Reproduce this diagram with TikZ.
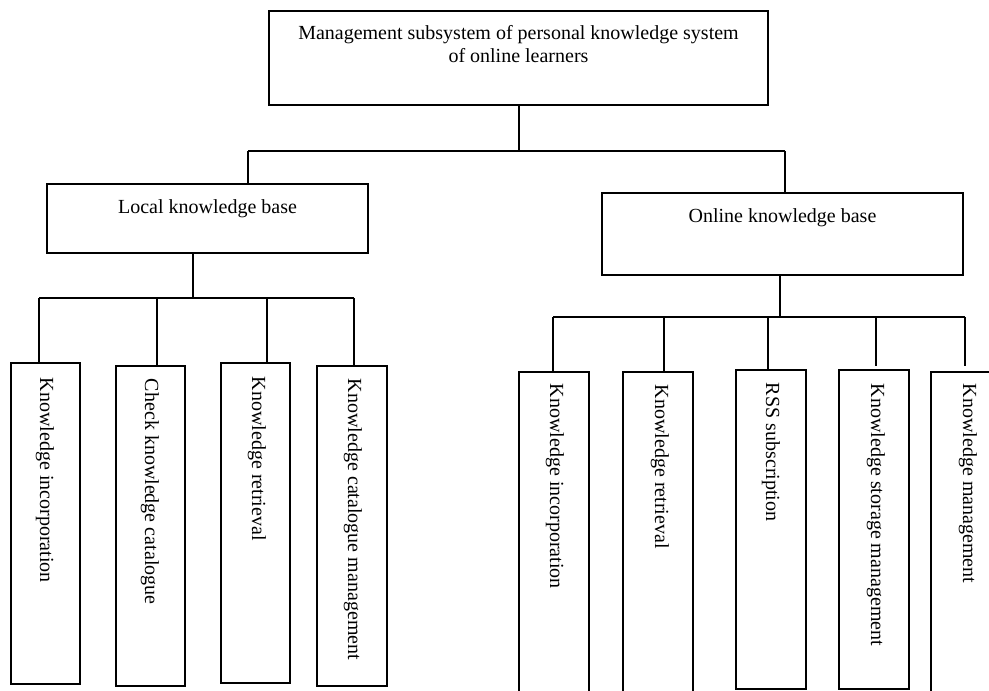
\documentclass[tikz,border=0pt]{standalone}
\usepackage{fontspec}
\setmainfont{Liberation Serif}
\usetikzlibrary{fit}
\begin{document}
\begin{tikzpicture}[x=0.75pt,y=-0.75pt,
  line width=1.5pt,
  box/.style={draw=black, line width=1.5pt, inner sep=0pt, rectangle},
  lbl/.style={inner sep=0pt, font=\fontsize{15}{17.25}\selectfont},
  vlbl/.style={inner sep=0pt, font=\fontsize{15}{17.25}\selectfont, rotate=-90, anchor=west},
  wire/.style={draw=black, line width=1.5pt}]
\useasboundingbox (0,0) rectangle (989,691);
\clip (0,0) rectangle (989,691);
% main boxes
\node[box, fit={(269,11)(768,105)}] (top) {};
\node[lbl, align=center, anchor=base] (toptxt) at (518.5,62.5) {Management subsystem of personal knowledge system\\of online learners};
\node[box, fit={(47,184)(368,253)}] (local) {};
\node[lbl, anchor=base] (localtxt) at (207.5,214) {Local knowledge base};
\node[box, fit={(602,193)(963,275)}] (online) {};
\node[lbl, anchor=base] (onlinetxt) at (782.5,223) {Online knowledge base};
% local children
\node[box, fit={(11,363)(80,684)}] (l1) {};
\node[box, fit={(116,366)(185,686)}] (l2) {};
\node[box, fit={(221,363)(290,683)}] (l3) {};
\node[box, fit={(317,366)(387,686)}] (l4) {};
\node[vlbl] (l1t) at (45,377) {Knowledge incorporation};
\node[vlbl] (l2t) at (150,378) {Check knowledge catalogue};
\node[vlbl] (l3t) at (257,376) {Knowledge retrieval};
\node[vlbl] (l4t) at (353,378) {Knowledge catalogue management};
% online children
\node[box, fit={(519,372)(589,705)}] (o1) {};
\node[box, fit={(623,372)(693,705)}] (o2) {};
\node[box, fit={(736,370)(806,689)}] (o3) {};
\node[box, fit={(839,370)(909,689)}] (o4) {};
\node[box, fit={(931,372)(1005,705)}] (o5) {};
\node[vlbl] (o1t) at (555,383) {Knowledge incorporation};
\node[vlbl] (o2t) at (660,384) {Knowledge retrieval};
\node[vlbl] (o3t) at (771,382) {RSS subscription};
\node[vlbl] (o4t) at (876,383) {Knowledge storage management};
\node[vlbl] (o5t) at (968,383) {Knowledge management};
% connector coordinates
\coordinate (busL) at (248,151);
\coordinate (busR) at (785,151);
\coordinate (lbus) at (193,298);
\coordinate (lb1) at (39,298);
\coordinate (lb2) at (157,298);
\coordinate (lb3) at (267,298);
\coordinate (lb4) at (354,298);
\coordinate (obus) at (780,317);
\coordinate (ob1) at (553,317);
\coordinate (ob2) at (664,317);
\coordinate (ob3) at (768,317);
\coordinate (ob4) at (876,317);
\coordinate (ob5) at (965,317);
\coordinate (ob4e) at (876,366);
\coordinate (ob5e) at (965,366);
% top level
\draw[wire] (top.south) -- (top.south |- busL);
\draw[wire] (busL) -- (busR);
\draw[wire] (busL) -- (busL |- local.north);
\draw[wire] (busR) -- (busR |- online.north);
% local
\draw[wire] (lbus |- local.south) -- (lbus);
\draw[wire] (lb1) -- (lb4);
\draw[wire] (lb1) -- (lb1 |- l1.north);
\draw[wire] (lb2) -- (lb2 |- l2.north);
\draw[wire] (lb3) -- (lb3 |- l3.north);
\draw[wire] (lb4) -- (lb4 |- l4.north);
% online
\draw[wire] (obus |- online.south) -- (obus);
\draw[wire] (ob1) -- (ob5);
\draw[wire] (ob1) -- (ob1 |- o1.north);
\draw[wire] (ob2) -- (ob2 |- o2.north);
\draw[wire] (ob3) -- (ob3 |- o3.north);
\draw[wire] (ob4) -- (ob4e);
\draw[wire] (ob5) -- (ob5e);
\end{tikzpicture}
\end{document}
